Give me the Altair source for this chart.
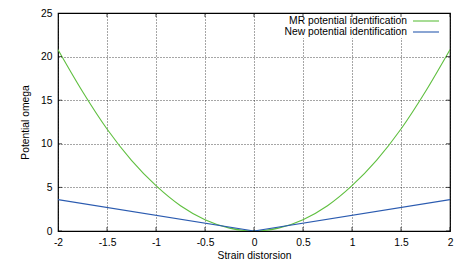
import altair as alt
import pandas as pd

# Data
strain = [-2.0, -1.75, -1.5, -1.25, -1.0, -0.75, -0.5, -0.25, 0.0,
          0.25, 0.5, 0.75, 1.0, 1.25, 1.5, 1.75, 2.0]
mr_potential = [20.8, 16.0, 11.7, 8.1, 5.2, 2.9, 1.3, 0.33, 0.0,
                0.33, 1.3, 2.9, 5.2, 8.1, 11.7, 16.0, 20.8]
new_strain = [-2.0, 0.0, 2.0]
new_potential = [3.6, 0.0, 3.6]

x_ticks = [-2, -1.5, -1, -0.5, 0, 0.5, 1, 1.5, 2]
y_ticks = [0, 5, 10, 15, 20, 25]
legend_labels = ["MR potential identification", "New potential identification"]
colors = ["#5fbf3f", "#2b5bb0"]

W, H = 392, 218
FONT = "Liberation Sans"
FS = 10.3

df_mr = pd.DataFrame({"x": strain, "y": mr_potential})
df_new = pd.DataFrame({"x": new_strain, "y": new_potential})
df_xt = pd.DataFrame({"v": x_ticks})
df_yt = pd.DataFrame({"v": y_ticks})

xs = alt.Scale(domain=[-2, 2], nice=False, zero=False)
ys = alt.Scale(domain=[0, 25], nice=False)

common = dict(grid=True, gridColor="#000000", gridDash=[1, 2], gridOpacity=0.7,
              ticks=False, domain=False, labelPadding=6, format="~g",
              labelFont=FONT, titleFont=FONT, labelFontSize=FS, titleFontSize=FS,
              titleFontWeight="normal", labelColor="#000", titleColor="#000",
              labelFlush=False, labelExpr="replace(datum.label, '\u2212', '-')")
xaxis = alt.Axis(values=x_ticks, title="Strain distorsion", titlePadding=3, **common)
yaxis = alt.Axis(values=y_ticks, title="Potential omega", titlePadding=10, **common)

X = alt.X("x:Q", scale=xs, axis=xaxis)
Y = alt.Y("y:Q", scale=ys, axis=yaxis)

base_axes = alt.Chart(df_mr).mark_point(opacity=0).encode(x=X, y=Y)

mr_line = alt.Chart(df_mr).mark_line(color=colors[0], strokeWidth=1.1,
                                     interpolate="monotone", clip=True).encode(x=X, y=Y)
new_line = alt.Chart(df_new).mark_line(color=colors[1], strokeWidth=1.1,
                                       clip=True).encode(x=X, y=Y)

# inward ticks (gnuplot style), mirrored
tick_kw = dict(size=8, thickness=1, color="#000", clip=True)
yt_left = alt.Chart(df_yt).mark_tick(orient="horizontal", **tick_kw).encode(
    y=alt.Y("v:Q", scale=ys, axis=yaxis), x=alt.value(0))
yt_right = alt.Chart(df_yt).mark_tick(orient="horizontal", **tick_kw).encode(
    y=alt.Y("v:Q", scale=ys, axis=yaxis), x=alt.value(W))
xt_bottom = alt.Chart(df_xt).mark_tick(orient="vertical", **tick_kw).encode(
    x=alt.X("v:Q", scale=xs, axis=xaxis), y=alt.value(H))
xt_top = alt.Chart(df_xt).mark_tick(orient="vertical", **tick_kw).encode(
    x=alt.X("v:Q", scale=xs, axis=xaxis), y=alt.value(0))

# legend (label left of sample line, gnuplot style)
one = pd.DataFrame({"a": [0]})
leg_bg = alt.Chart(one).mark_rect(color="white").encode(
    x=alt.value(220), x2=alt.value(W - 2), y=alt.value(1), y2=alt.value(25))
leg_layers = []
for i, (lab, col) in enumerate(zip(legend_labels, colors)):
    yy = 8 + 11 * i
    leg_layers.append(alt.Chart(one).mark_text(
        align="right", baseline="middle", font=FONT, fontSize=FS, color="#000",
        text=lab).encode(x=alt.value(W - 43), y=alt.value(yy)))
    leg_layers.append(alt.Chart(one).mark_rule(strokeWidth=1.1, color=col).encode(
        x=alt.value(W - 37), x2=alt.value(W - 11), y=alt.value(yy)))

chart = alt.layer(base_axes, mr_line, new_line, leg_bg, *leg_layers,
                  yt_left, yt_right, xt_bottom, xt_top).properties(
    width=W, height=H,
    autosize=alt.AutoSizeParams(type="none"),
    padding={"left": 50, "top": 5, "right": 6, "bottom": 32},
).configure_view(stroke="#000", strokeWidth=1.2)

chart.save("out.html", embed_options={"renderer": "svg", "actions": False})
